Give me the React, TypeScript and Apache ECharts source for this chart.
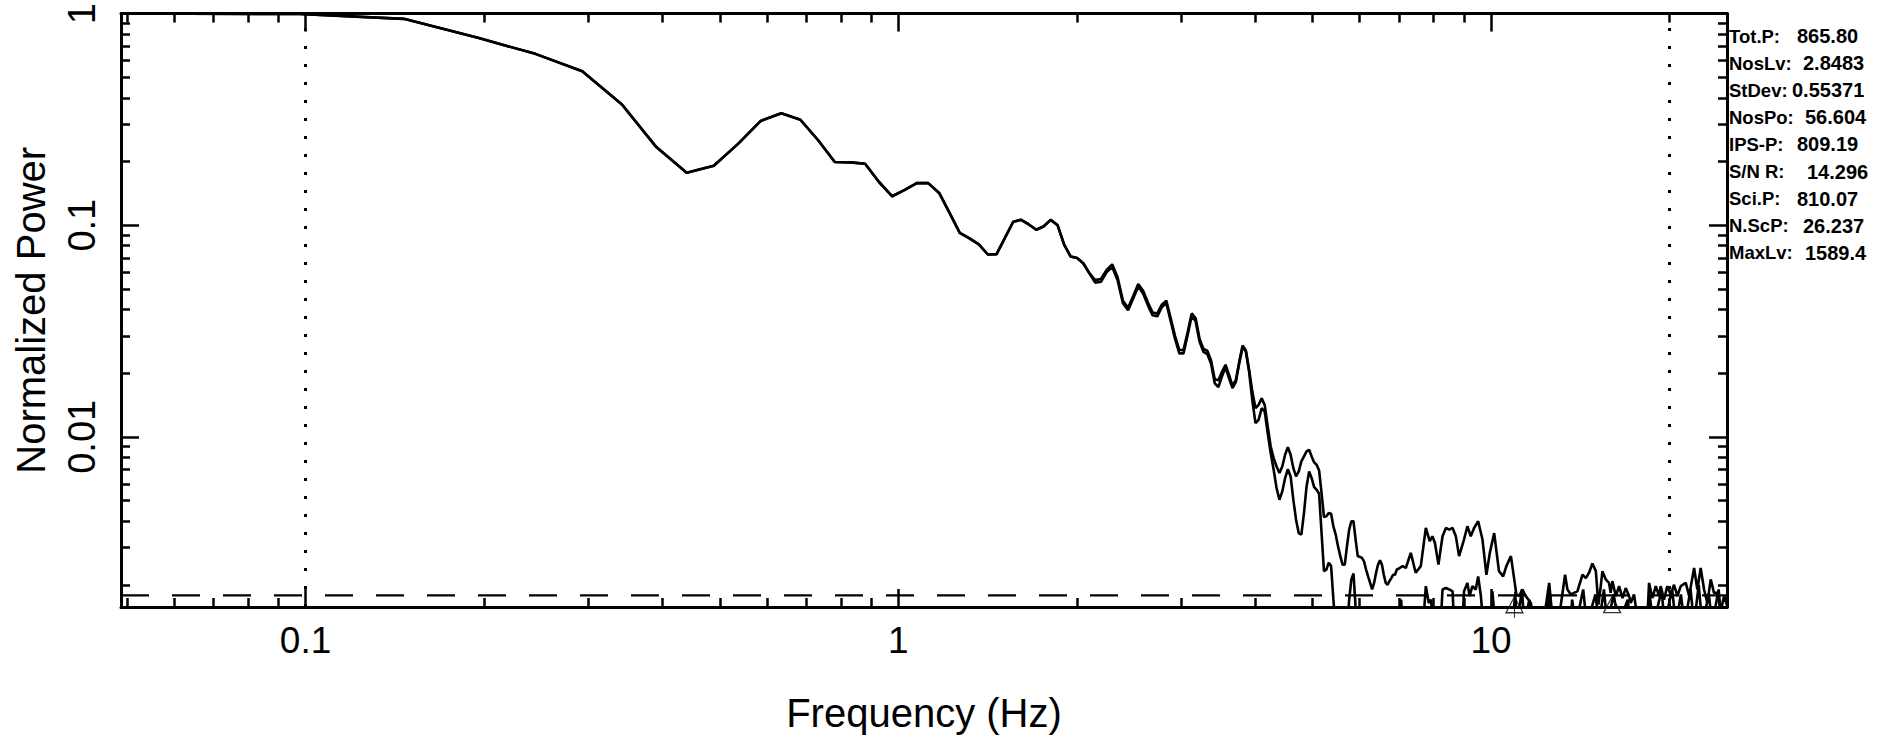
import React, { useEffect, useRef } from "react";
import * as echarts from "echarts";

// Frequency resolution of the power spectrum (Hz per bin)
const DF = 0.048828125;

// Power per bin (k = 1..143), upper curve
const upperBinPower: number[] = [
  1.0, 0.995, 0.944, 0.768, 0.645, 0.534, 0.372, 0.234, 0.177, 0.191,
  0.243, 0.311, 0.338, 0.315, 0.252, 0.199, 0.198, 0.195, 0.16, 0.137,
  0.147, 0.158, 0.158, 0.142, 0.114, 0.092, 0.0866, 0.0812, 0.0727, 0.073,
  0.0873, 0.1038, 0.106, 0.1008, 0.0952, 0.0986, 0.106, 0.1003, 0.0809, 0.0711,
  0.07, 0.0661, 0.0594, 0.055, 0.0557, 0.0615, 0.0653, 0.0568, 0.044, 0.0407,
  0.0463, 0.0527, 0.049, 0.0431, 0.0387, 0.0383, 0.0421, 0.044, 0.0363, 0.0299,
  0.0257, 0.0257, 0.0312, 0.0383, 0.0363, 0.029, 0.026, 0.0255, 0.023, 0.0187,
  0.0185, 0.0203, 0.0219, 0.0196, 0.0174, 0.0186, 0.0227, 0.027, 0.0256, 0.0207,
  0.0164, 0.01365, 0.01416, 0.0152, 0.01416, 0.01118, 0.009, 0.00793, 0.00724, 0.00674,
  0.00724, 0.00823, 0.00894, 0.00823, 0.00711, 0.0065, 0.00686, 0.00765, 0.00808, 0.00853,
  0.00868, 0.00808, 0.00757, 0.00738, 0.00694, 0.00542, 0.00418, 0.00421, 0.00436, 0.00433,
  0.00377, 0.00345, 0.00304, 0.00273, 0.00249, 0.00249, 0.00304, 0.00364, 0.00399, 0.00399,
  0.00327, 0.00273, 0.00271, 0.00268, 0.00258, 0.00236, 0.00219, 0.00204, 0.0019, 0.00204,
  0.00228, 0.00249, 0.00261, 0.00249, 0.00223, 0.00204, 0.002, 0.00208, 0.00215, 0.00223,
  0.00223, 0.00236, 0.00238,
];

// Power per bin (k = 1..143), lower curve
const lowerBinPower: number[] = [
  1.0, 0.995, 0.944, 0.768, 0.645, 0.534, 0.372, 0.234, 0.177, 0.191,
  0.243, 0.311, 0.338, 0.315, 0.252, 0.199, 0.198, 0.195, 0.16, 0.137,
  0.147, 0.158, 0.158, 0.142, 0.114, 0.092, 0.0866, 0.0812, 0.0727, 0.073,
  0.0873, 0.1038, 0.106, 0.1008, 0.0952, 0.0986, 0.106, 0.1003, 0.0809, 0.0711,
  0.07, 0.0661, 0.0594, 0.0535, 0.054, 0.06, 0.0635, 0.055, 0.0428, 0.0396,
  0.045, 0.0513, 0.0475, 0.0418, 0.0375, 0.0371, 0.041, 0.0428, 0.0352, 0.029,
  0.0248, 0.0248, 0.0302, 0.0372, 0.0352, 0.0281, 0.0252, 0.0246, 0.0222, 0.0179,
  0.0172, 0.0193, 0.0213, 0.0189, 0.017, 0.0182, 0.0223, 0.0265, 0.0253, 0.0203,
  0.0149, 0.0116, 0.01203, 0.01365, 0.01317, 0.0104, 0.00838, 0.00699, 0.00573, 0.00504,
  0.00552, 0.00638, 0.00704, 0.0065, 0.00504, 0.00406, 0.00351, 0.00345, 0.00436, 0.00583,
  0.00686, 0.00638, 0.00579, 0.00562, 0.00538, 0.00351, 0.00232, 0.00236, 0.00254, 0.00245,
  0.0017, 0.0012, 0.0012, 0.0012, 0.0012, 0.0012, 0.0012, 0.0017, 0.00212, 0.00226,
  0.00156, 0.0012, 0.0012, 0.0012, 0.0012, 0.0012, 0.0012, 0.0012, 0.0012, 0.0012,
  0.0012, 0.0012, 0.0012, 0.0012, 0.0012, 0.0012, 0.0012, 0.0012, 0.0012, 0.0012,
  0.0012, 0.0012, 0.0012,
];

// High-frequency part (> 7 Hz), upper curve
const upperHfFreq: number[] = [
  7.09, 7.18, 7.32, 7.46, 7.61, 7.76, 7.88, 7.96, 8.04, 8.15,
  8.28, 8.39, 8.5, 8.61, 8.72, 8.83, 9.0, 9.12, 9.24, 9.36,
  9.51, 9.67, 9.82, 9.95, 10.12, 10.31, 10.48, 10.61, 10.8, 10.94,
  11.03, 11.15, 11.29, 11.44, 11.67, 11.82, 12.05, 12.29, 12.53, 12.69,
  13.02, 13.33, 13.45, 13.63, 13.8, 13.98, 14.26, 14.45, 14.63, 14.82,
  15.02, 15.17, 15.31, 15.41, 15.61, 15.81, 15.91, 16.02, 16.23, 16.44,
  16.66, 16.87, 17.09, 17.2, 17.42, 17.65, 18.0, 18.35, 18.47, 18.71,
  18.96, 19.2, 19.32, 19.57, 19.83, 20.09, 20.35, 20.62, 20.89, 21.3,
  21.58, 22.0, 22.28, 22.57, 22.87, 23.16, 23.47, 23.77, 24.08, 24.4,
  24.72, 25.0,
];
const upperHfPower: number[] = [
  0.00245, 0.0024, 0.00283, 0.00228, 0.00245, 0.00371, 0.00321, 0.00339, 0.00315, 0.00249,
  0.00339, 0.00371, 0.00364, 0.00371, 0.00339, 0.00273, 0.00327, 0.00378, 0.00339, 0.00371,
  0.00399, 0.00327, 0.00223, 0.00283, 0.00351, 0.00232, 0.00219, 0.00245, 0.00273, 0.00212,
  0.0018, 0.00177, 0.0019, 0.00177, 0.00164, 0.0013, 0.0014, 0.0014, 0.00204, 0.0014,
  0.0014, 0.00223, 0.0019, 0.0018, 0.00183, 0.00186, 0.00223, 0.00215, 0.00228, 0.00252,
  0.00232, 0.00161, 0.00197, 0.00232, 0.00212, 0.00204, 0.00183, 0.00208, 0.00177, 0.00197,
  0.00173, 0.00193, 0.00177, 0.00164, 0.0018, 0.0014, 0.0014, 0.0014, 0.00204, 0.00173,
  0.00197, 0.00177, 0.00197, 0.0017, 0.00197, 0.0018, 0.002, 0.00177, 0.00197, 0.00204,
  0.00177, 0.0024, 0.0019, 0.0024, 0.0019, 0.00164, 0.00212, 0.00183, 0.00183, 0.0015,
  0.00177, 0.0016,
];

// High-frequency part (> 7 Hz), lower curve
const lowerHfFreq: number[] = [
  7.0, 7.05, 7.1, 7.68, 7.76, 7.85, 7.92, 7.98, 8.22, 8.28,
  8.39, 8.5, 8.61, 8.66, 8.94, 9.0, 9.12, 9.2, 9.3, 9.42,
  9.51, 9.61, 9.7, 10.0, 10.05, 10.16, 10.87, 10.98, 11.07, 11.27,
  11.38, 11.6, 11.7, 12.4, 12.5, 12.6, 13.6, 13.7, 13.9, 14.3,
  14.5, 15.0, 15.2, 15.5, 15.7, 16.1, 16.4, 17.0, 17.2, 18.4,
  18.5, 18.8, 19.4, 19.6, 20.2, 20.5, 20.9, 21.2, 21.7, 22.0,
  22.4, 22.7, 23.3, 23.6, 24.2, 24.5, 25.0,
];
const lowerHfPower: number[] = [
  0.0012, 0.0017, 0.0012, 0.0013, 0.00197, 0.00164, 0.0017, 0.0013, 0.0013, 0.0019,
  0.00193, 0.0019, 0.00186, 0.0013, 0.0013, 0.00186, 0.00204, 0.00177, 0.00197, 0.0019,
  0.00219, 0.00177, 0.0013, 0.0013, 0.00186, 0.0013, 0.0013, 0.0018, 0.0013, 0.0019,
  0.0013, 0.0017, 0.0013, 0.0013, 0.0019, 0.0013, 0.0013, 0.0017, 0.0013, 0.0019,
  0.0013, 0.0018, 0.0013, 0.0019, 0.0013, 0.0018, 0.0013, 0.0017, 0.0013, 0.0013,
  0.0018, 0.0013, 0.0019, 0.0013, 0.0019, 0.0013, 0.0018, 0.0013, 0.0019, 0.0013,
  0.002, 0.0013, 0.0018, 0.0013, 0.0019, 0.0013, 0.0013,
];

// Axis ranges and ticks
const X_MIN = DF;
const X_MAX = 25;
const Y_MIN = 0.00157;
const Y_MAX = 1;
const xMajorTicks: number[] = [0.1, 1, 10];
const xMinorTicks: number[] = [
  0.05, 0.06, 0.07, 0.08, 0.09, 0.2, 0.3, 0.4, 0.5, 0.6, 0.7, 0.8, 0.9,
  2, 3, 4, 5, 6, 7, 8, 9, 20,
];
const yMajorTicks: number[] = [0.01, 0.1, 1];
const yMinorTicks: number[] = [
  0.002, 0.003, 0.004, 0.005, 0.006, 0.007, 0.008, 0.009,
  0.02, 0.03, 0.04, 0.05, 0.06, 0.07, 0.08, 0.09,
  0.2, 0.3, 0.4, 0.5, 0.6, 0.7, 0.8, 0.9,
];

// Reference lines and markers
const noiseLevel = 0.00178;
const dottedFreqs: number[] = [0.1, 20];
const triangleFreqs: number[] = [10.95, 16.0];
const triangleLevel = 0.00161;

// Statistics panel
const statLabels: string[] = [
  "Tot.P:", "NosLv:", "StDev:", "NosPo:", "IPS-P:", "S/N R:", "Sci.P:", "N.ScP:", "MaxLv:",
];
const statValues: string[] = [
  "865.80", "2.8483", "0.55371", "56.604", "809.19", "14.296", "810.07", "26.237", "1589.4",
];
// layout: left edge (px) of each value text
const statValueLeft: number[] = [1797, 1803, 1792, 1805, 1797, 1807, 1797, 1803, 1805];

const FONT = '"Liberation Sans", Arial, Helvetica, sans-serif';

function fmt(v: number): string {
  return String(parseFloat(Number(v).toPrecision(3)));
}

function buildOption() {
  const upperData: number[][] = upperBinPower
    .map((p, i) => [(i + 1) * DF, p])
    .concat(upperHfFreq.map((f, i) => [f, upperHfPower[i]]));
  const lowerData: number[][] = lowerBinPower
    .map((p, i) => [(i + 1) * DF, p])
    .concat(lowerHfFreq.map((f, i) => [f, lowerHfPower[i]]));

  const tickStyle = { color: "#000", width: 2.5 };
  const lineStyle = { color: "#000", width: 3 };

  const xAxisDef = (position: string, ticks: number[], len: number, labels: boolean, showLine: boolean) => ({
    type: "log",
    logBase: 10,
    min: X_MIN,
    max: X_MAX,
    position,
    gridIndex: 0,
    axisLine: { show: showLine, onZero: false, lineStyle },
    axisTick: { show: true, inside: true, length: len, customValues: ticks, lineStyle: tickStyle },
    axisLabel: labels
      ? {
          show: true,
          customValues: xMajorTicks,
          formatter: (v: number) => fmt(v),
          color: "#000",
          fontFamily: FONT,
          fontSize: 37,
          margin: 15,
        }
      : { show: false },
    splitLine: { show: false },
    minorTick: { show: false },
    minorSplitLine: { show: false },
    ...(labels
      ? {
          name: "Frequency (Hz)",
          nameLocation: "middle",
          nameGap: 86,
          nameTextStyle: { color: "#000", fontFamily: FONT, fontSize: 40 },
        }
      : {}),
  });

  const yAxisDef = (position: string, ticks: number[], len: number, labels: boolean, showLine: boolean) => ({
    type: "log",
    logBase: 10,
    min: Y_MIN,
    max: Y_MAX,
    position,
    gridIndex: 0,
    axisLine: { show: showLine, onZero: false, lineStyle },
    axisTick: { show: true, inside: true, length: len, customValues: ticks, lineStyle: tickStyle },
    axisLabel: labels
      ? {
          show: true,
          customValues: yMajorTicks,
          formatter: (v: number) => fmt(v),
          rotate: 90,
          color: "#000",
          fontFamily: FONT,
          fontSize: 38,
          margin: 20,
        }
      : { show: false },
    splitLine: { show: false },
    minorTick: { show: false },
    minorSplitLine: { show: false },
    ...(labels
      ? {
          name: "Normalized Power",
          nameLocation: "middle",
          nameRotate: 90,
          nameGap: 70,
          nameTextStyle: { color: "#000", fontFamily: FONT, fontSize: 40 },
        }
      : {}),
  });

  const dottedData: any[] = dottedFreqs.map((f) => ({ xAxis: f }));

  const arrowTri = "path://M8,5 L16,21 L0,21 Z M8,0 L8,26";

  const statGraphics: any[] = [];
  statLabels.forEach((lab, i) => {
    const y = 36 + i * 27.1;
    statGraphics.push({
      type: "text",
      x: 1729,
      y,
      silent: true,
      style: {
        text: lab,
        fill: "#000",
        fontFamily: FONT,
        fontSize: 18.5,
        fontWeight: "bold",
        verticalAlign: "middle",
        align: "left",
      },
    });
    statGraphics.push({
      type: "text",
      x: statValueLeft[i],
      y,
      silent: true,
      style: {
        text: statValues[i],
        fill: "#000",
        fontFamily: FONT,
        fontSize: 20,
        fontWeight: "bold",
        verticalAlign: "middle",
        align: "left",
      },
    });
  });

  return {
    animation: false,
    backgroundColor: "#fff",
    textStyle: { fontFamily: FONT },
    grid: { left: 121, right: 163, top: 13, bottom: 133, containLabel: false },
    xAxis: [
      xAxisDef("bottom", xMajorTicks, 18, true, true),
      xAxisDef("bottom", xMinorTicks, 9, false, false),
      xAxisDef("top", xMajorTicks, 18, false, true),
      xAxisDef("top", xMinorTicks, 9, false, false),
    ],
    yAxis: [
      yAxisDef("left", yMajorTicks, 18, true, true),
      yAxisDef("left", yMinorTicks, 9, false, false),
      yAxisDef("right", yMajorTicks, 18, false, true),
      yAxisDef("right", yMinorTicks, 9, false, false),
    ],
    series: [
      {
        type: "line",
        name: "noise level",
        xAxisIndex: 0,
        yAxisIndex: 0,
        data: [
          [X_MIN, noiseLevel],
          [X_MAX, noiseLevel],
        ],
        showSymbol: false,
        symbol: "none",
        silent: true,
        lineStyle: { color: "#000", width: 2.2, type: [28, 23] },
        z: 1,
      },
      {
        type: "line",
        name: "upper",
        xAxisIndex: 0,
        yAxisIndex: 0,
        data: upperData,
        showSymbol: false,
        symbol: "none",
        clip: true,
        silent: true,
        lineStyle: { color: "#000", width: 2.6 },
        z: 3,
        markLine: {
          silent: true,
          symbol: ["none", "none"],
          label: { show: false },
          lineStyle: { color: "#000", width: 3, type: [3, 15] },
          data: dottedData,
        },
      },
      {
        type: "line",
        name: "lower",
        xAxisIndex: 0,
        yAxisIndex: 0,
        data: lowerData,
        showSymbol: false,
        symbol: "none",
        clip: true,
        silent: true,
        lineStyle: { color: "#000", width: 2.6 },
        z: 3,
      },
      {
        type: "scatter",
        xAxisIndex: 0,
        yAxisIndex: 0,
        silent: true,
        clip: false,
        z: 4,
        data: triangleFreqs.map((f, i) => ({
          value: [f, triangleLevel],
          symbol: i === 0 ? arrowTri : "triangle",
          symbolSize: i === 0 ? [17, 26] : [17, 16],
        })),
        itemStyle: { color: "rgba(0,0,0,0)", borderColor: "#000", borderWidth: 1.3 },
      },
    ],
    graphic: statGraphics,
  };
}

export default function App() {
  const ref = useRef<HTMLDivElement | null>(null);
  useEffect(() => {
    if (!ref.current) return;
    const chart = echarts.init(ref.current, undefined, { renderer: "svg" });
    chart.setOption(buildOption() as any);
    return () => {
      chart.dispose();
    };
  }, []);
  return (
    <div
      ref={ref}
      style={{ position: "absolute", left: 0, top: 0, width: 1890, height: 740, background: "#fff" }}
    />
  );
}
